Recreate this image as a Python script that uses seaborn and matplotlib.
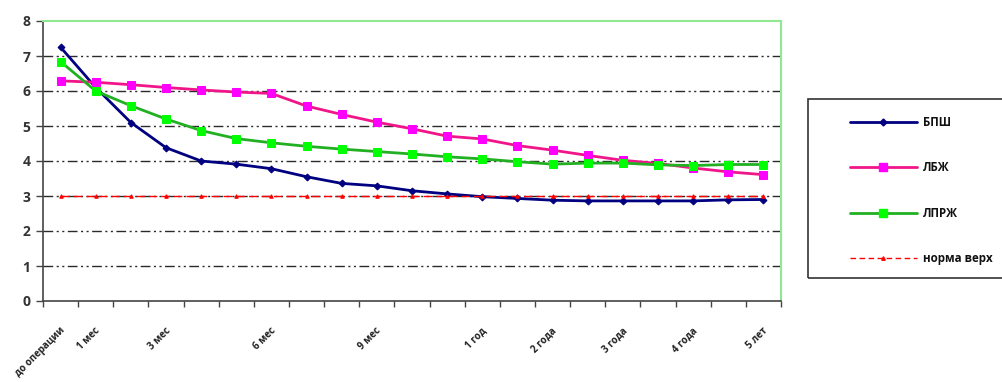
import matplotlib
matplotlib.use("Agg")
import matplotlib.pyplot as plt
import matplotlib.transforms as mtransforms
from matplotlib.patches import Rectangle
from matplotlib.lines import Line2D
import seaborn as sns
import numpy as np

# ---- data ----
categories = ["до операции", "1 мес", "2 мес", "3 мес", "4 мес", "5 мес", "6 мес",
              "7 мес", "8 мес", "9 мес", "10 мес", "11 мес", "1 год", "1,5 года",
              "2 года", "2,5 года", "3 года", "3,5 года", "4 года", "4,5 года", "5 лет"]
tick_labels = ["до операции", "1 мес", "", "3 мес", "", "", "6 мес", "", "", "9 мес",
               "", "", "1 год", "", "2 года", "", "3 года", "", "4 года", "", "5 лет"]
bpsh = [7.25, 6.10, 5.10, 4.38, 4.00, 3.91, 3.78, 3.55, 3.36, 3.29, 3.15, 3.06,
        2.98, 2.93, 2.88, 2.86, 2.86, 2.86, 2.86, 2.89, 2.90]
lbzh = [6.29, 6.25, 6.18, 6.10, 6.03, 5.97, 5.93, 5.57, 5.33, 5.11, 4.92, 4.71,
        4.63, 4.44, 4.31, 4.16, 4.02, 3.93, 3.80, 3.69, 3.61]
lprzh = [6.84, 6.00, 5.58, 5.20, 4.87, 4.64, 4.52, 4.42, 4.34, 4.27, 4.20, 4.12,
         4.06, 3.98, 3.91, 3.94, 3.94, 3.89, 3.87, 3.90, 3.90]
norma = [3.0, 3.0, 3.0, 3.0, 3.0, 3.0, 3.0, 3.0, 3.0, 3.0, 3.0, 3.0,
         3.0, 3.0, 3.0, 3.0, 3.0, 3.0, 3.0, 3.0, 3.0]
series_names = ["БПШ", "ЛБЖ", "ЛПРЖ", "норма верх"]
y_ticks = [0, 1, 2, 3, 4, 5, 6, 7, 8]

sns.set_style("white")
plt.rcParams["font.family"] = ["Open Sans", "DejaVu Sans"]

fig = plt.figure(figsize=(10.02, 3.82), dpi=100)
ax = fig.add_axes([43 / 1002, 1 - 301 / 382, (781 - 43) / 1002, (301 - 21) / 382])

x = np.arange(len(categories))

# grid lines (dash-dot-dot)
for yv in y_ticks[1:-1]:
    ax.axhline(yv, color="#2a2a2a", lw=1.0, dashes=(7, 2.5, 1.5, 2.5, 1.5, 2.5), zorder=1)

sns.lineplot(x=x, y=bpsh, ax=ax, color="#000080", lw=2.0, marker="D", markersize=3.5,
             markeredgecolor="#000080", markerfacecolor="#000080", sort=False, zorder=3)
sns.lineplot(x=x, y=lbzh, ax=ax, color="#F0168A", lw=2.0, marker="s", markersize=6,
             markeredgecolor="#FF00FF", markerfacecolor="#FF00FF", sort=False, zorder=3)
sns.lineplot(x=x, y=lprzh, ax=ax, color="#22B022", lw=2.0, marker="s", markersize=6,
             markeredgecolor="#00FF00", markerfacecolor="#00FF00", sort=False, zorder=3)
sns.lineplot(x=x, y=norma, ax=ax, color="#FF0000", lw=1.0, marker="^", markersize=2.5,
             markeredgecolor="#FF0000", markerfacecolor="#FF0000", sort=False, zorder=4,
             dashes=False, linestyle=(0, (6, 3)))

ax.set_xlim(-0.5, len(categories) - 0.5)
ax.set_ylim(0, 8)
ax.set_yticks(y_ticks)
ax.set_yticklabels([str(v) for v in y_ticks], fontsize=10, fontweight="bold", color="#333333")
ax.tick_params(axis="y", which="major", left=True, length=5, width=1, color="#444444", pad=4)

ax.set_xticks(x)
ax.set_xticklabels(tick_labels, rotation=45, ha="right", va="center",
                   rotation_mode="anchor", fontsize=7, fontweight="bold", color="#222222")
ax.set_xticks(np.arange(-0.5, len(categories)), minor=True)
ax.tick_params(axis="x", which="major", bottom=True, length=0, pad=20)
ax.tick_params(axis="x", which="minor", bottom=True, length=4, width=1, color="#444444")
offset = mtransforms.ScaledTranslation(2 / 72, 0, fig.dpi_scale_trans)
for lab in ax.get_xticklabels():
    lab.set_transform(lab.get_transform() + offset)

ax.grid(False)
for side in ["left", "bottom"]:
    ax.spines[side].set_color("#444444")
    ax.spines[side].set_linewidth(1.2)
for side in ["top", "right"]:
    ax.spines[side].set_color("#90E890")
    ax.spines[side].set_linewidth(1.5)
    ax.spines[side].set_visible(True)
ax.set_xlabel("")
ax.set_ylabel("")

# legend
handles = [
    Line2D([], [], color="#000080", lw=2.0, marker="D", markersize=3.5,
           markerfacecolor="#000080", markeredgecolor="#000080"),
    Line2D([], [], color="#F0168A", lw=2.0, marker="s", markersize=6,
           markerfacecolor="#FF00FF", markeredgecolor="#FF00FF"),
    Line2D([], [], color="#22B022", lw=2.0, marker="s", markersize=6,
           markerfacecolor="#00FF00", markeredgecolor="#00FF00"),
    Line2D([], [], color="#FF0000", lw=1.0, linestyle=(0, (4, 2.5)), marker="^",
           markersize=2.5, markerfacecolor="#FF0000", markeredgecolor="#FF0000"),
]
leg = fig.legend(handles, series_names, loc="upper left",
                 bbox_to_anchor=(850 / 1002, 1 - 116 / 382), frameon=False,
                 prop={"size": 8.3, "weight": "bold"}, handlelength=5.8,
                 handletextpad=0.5, labelspacing=2.8, borderpad=0, borderaxespad=0)
for t in leg.get_texts():
    t.set_color("#111111")

fig.patches.append(Rectangle((808 / 1002, 1 - 278 / 382), 220 / 1002, 179 / 382,
                             transform=fig.transFigure, fill=False,
                             edgecolor="#333333", lw=1.2))

fig.savefig("out.png", dpi=100, facecolor="white")
